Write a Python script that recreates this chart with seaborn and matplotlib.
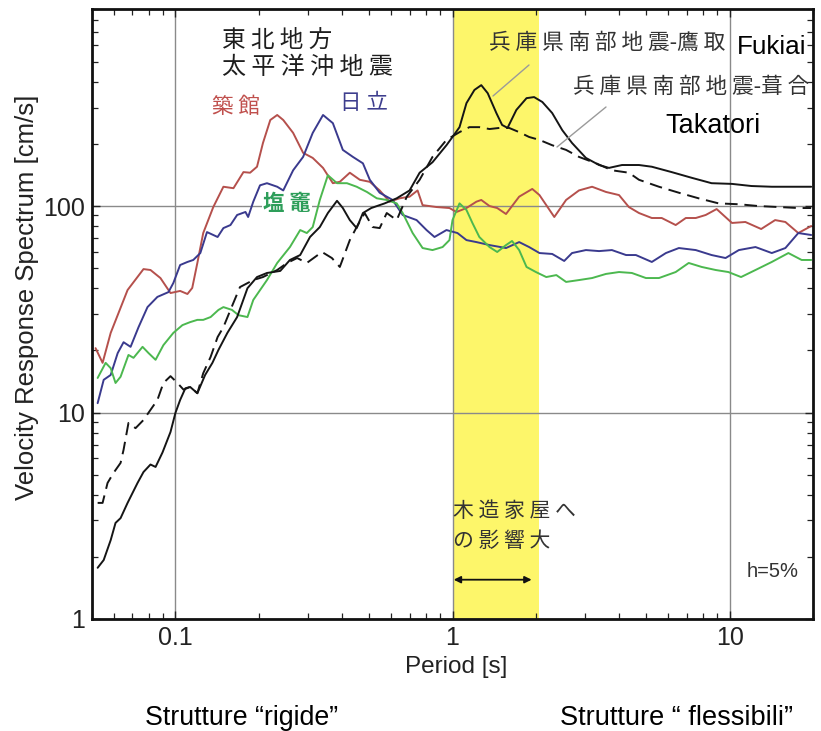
import numpy as np
import pandas as pd
import matplotlib
matplotlib.use("Agg")
import matplotlib.pyplot as plt
from matplotlib.lines import Line2D
from matplotlib.ticker import FixedLocator, FixedFormatter, LogLocator, NullFormatter
import seaborn as sns

# ---- velocity response spectra (h = 5%) : period [s] / velocity [cm/s] ----
tsukidate_period = [0.0515, 0.0546, 0.0584, 0.0672, 0.0767, 0.0813, 0.0883, 0.096, 0.104, 0.1105,
                    0.115, 0.120, 0.126, 0.137, 0.149, 0.162, 0.176, 0.186, 0.197, 0.207,
                    0.220, 0.233, 0.245, 0.266, 0.289, 0.313, 0.341, 0.370, 0.392, 0.426,
                    0.463, 0.503, 0.546, 0.593, 0.644, 0.700, 0.748, 0.780, 0.875, 0.975,
                    1.034, 1.123, 1.22, 1.27, 1.36, 1.45, 1.56, 1.74, 1.94, 2.06,
                    2.18, 2.33, 2.57, 2.86, 3.19, 3.58, 3.99, 4.33, 4.71, 5.24,
                    5.69, 6.39, 6.95, 7.55, 8.20, 8.98, 10.2, 11.4, 13.0, 14.6,
                    15.9, 17.7, 19.7]
tsukidate_vel = [20.5, 17.4, 24.3, 39.2, 49.5, 49.0, 44.8, 37.9, 38.8, 37.5,
                 40.1, 53.0, 74.0, 98.9, 124, 122, 146, 145, 155, 202,
                 261, 276, 261, 226, 181, 171, 153, 129, 131, 145,
                 134, 131, 119, 105, 109, 111, 119, 101, 98.9, 97.8,
                 93.6, 97.8, 105, 107, 100, 97.8, 91.5, 111, 121, 113,
                 101, 88.5, 107, 119, 124, 117, 113, 98.9, 92.5, 87.5,
                 87.5, 80.9, 87.5, 87.5, 90.5, 96.7, 82.8, 83.7, 77.4, 85.5,
                 83.7, 74.0, 80.0]

hitachi_period = [0.0524, 0.0551, 0.0584, 0.0619, 0.065, 0.0689, 0.0736, 0.0793, 0.0861, 0.0944,
                  0.0983, 0.104, 0.1105, 0.116, 0.123, 0.130, 0.142, 0.149, 0.158, 0.167,
                  0.179, 0.183, 0.191, 0.202, 0.214, 0.233, 0.245, 0.266, 0.289, 0.313,
                  0.341, 0.370, 0.402, 0.437, 0.475, 0.503, 0.546, 0.608, 0.661, 0.742,
                  0.806, 0.861, 0.951, 1.042, 1.123, 1.22, 1.36, 1.56, 1.74, 1.89,
                  2.06, 2.29, 2.53, 2.70, 3.03, 3.38, 3.76, 4.23, 4.59, 5.24,
                  5.89, 6.56, 7.55, 8.61, 9.67, 10.8, 12.4, 14.2, 15.9, 17.7, 19.7]
hitachi_vel = [11.1, 14.4, 15.2, 19.4, 21.9, 20.8, 25.9, 32.4, 36.3, 38.3,
               42.4, 51.8, 53.6, 54.8, 59.2, 74.8, 70.8, 78.2, 80.9, 90.5,
               93.6, 88.5, 105, 126, 129, 124, 119, 149, 173, 226,
               276, 252, 187, 173, 161, 134, 116, 107, 90.5, 85.5,
               76.5, 70.8, 76.5, 74.0, 68.4, 66.9, 64.7, 62.6, 66.9, 63.3,
               59.2, 58.6, 54.2, 59.2, 61.2, 60.5, 61.2, 57.9, 57.9, 53.6,
               59.2, 62.6, 61.2, 57.9, 56.0, 61.2, 63.3, 59.2, 62.6, 74.0, 72.4]

shiogama_period = [0.0524, 0.056, 0.0584, 0.0608, 0.0634, 0.0677, 0.0706, 0.0761, 0.080, 0.0848,
                   0.0905, 0.0983, 0.106, 0.113, 0.120, 0.126, 0.134, 0.143, 0.149, 0.160,
                   0.169, 0.182, 0.191, 0.214, 0.233, 0.259, 0.282, 0.298, 0.313, 0.332,
                   0.355, 0.383, 0.416, 0.451, 0.491, 0.533, 0.579, 0.629, 0.661, 0.718,
                   0.780, 0.847, 0.921, 0.975, 1.0, 1.06, 1.123, 1.18, 1.25, 1.36,
                   1.45, 1.56, 1.64, 1.74, 1.85, 2.00, 2.18, 2.37, 2.57, 2.86,
                   3.19, 3.58, 3.99, 4.44, 4.99, 5.56, 6.39, 7.12, 7.93, 8.91,
                   9.9, 11.0, 12.4, 14.2, 16.3, 18.2, 19.7]
shiogama_vel = [14.7, 17.4, 16.4, 13.9, 14.9, 19.0, 18.4, 20.8, 19.4, 18.0,
                21.2, 24.3, 26.5, 27.4, 28.1, 28.1, 29.0, 31.4, 32.4, 31.4,
                29.6, 29.0, 35.1, 43.8, 53.0, 63.3, 76.5, 74.0, 79.1, 107,
                141, 129, 129, 124, 117, 109, 107, 103, 92.5, 74.0,
                62.6, 61.2, 63.3, 68.4, 85.5, 103, 95.7, 82.8, 70.8, 63.3,
                59.9, 64.7, 67.7, 61.2, 50.7, 47.9, 45.3, 46.3, 42.9, 43.8,
                44.8, 46.9, 47.9, 47.4, 44.8, 44.8, 47.9, 53.0, 50.7, 49.0,
                47.9, 45.3, 49.0, 53.6, 59.2, 54.8, 54.8]

takatori_period = [0.0524, 0.0551, 0.0584, 0.0608, 0.0634, 0.0672, 0.073, 0.0767, 0.0813, 0.0848,
                   0.0898, 0.096, 0.1, 0.104, 0.1086, 0.113, 0.120, 0.128, 0.136, 0.143,
                   0.154, 0.167, 0.182, 0.197, 0.214, 0.239, 0.259, 0.282, 0.306, 0.332,
                   0.355, 0.383, 0.402, 0.426, 0.451, 0.475, 0.509, 0.569, 0.629, 0.70,
                   0.761, 0.847, 0.951, 1.0, 1.06, 1.123, 1.20, 1.27, 1.34, 1.44,
                   1.51, 1.58, 1.70, 1.85, 1.97, 2.11, 2.29, 2.49, 2.70, 3.03,
                   3.38, 3.67, 4.09, 4.71, 5.24, 6.18, 7.30, 8.61, 10.2, 12.0,
                   14.2, 16.7, 19.7]
takatori_vel = [1.77, 1.93, 2.41, 2.92, 3.08, 3.65, 4.56, 5.15, 5.6, 5.45,
                6.4, 8.05, 9.95, 11.5, 13.1, 13.3, 12.4, 15.2, 17.4, 20.1,
                24.3, 29.0, 40.0, 45.3, 47.4, 48.5, 54.8, 57.9, 70.8, 79.1,
                92.5, 106, 97.8, 85.5, 78.2, 92.5, 97.8, 103, 109, 119,
                145, 163, 197, 216, 241, 315, 365, 385, 352, 282,
                247, 239, 292, 333, 337, 319, 282, 233, 202, 171,
                158, 153, 158, 158, 155, 146, 137, 129, 128, 125,
                124, 124, 124]

fukiai_period = [0.0524, 0.0546, 0.0569, 0.0598, 0.0634, 0.065, 0.0677, 0.0718, 0.0767, 0.0813,
                 0.0861, 0.0905, 0.096, 0.1017, 0.107, 0.113, 0.120, 0.126, 0.134, 0.142,
                 0.149, 0.158, 0.171, 0.191, 0.207, 0.233, 0.253, 0.275, 0.298, 0.338,
                 0.367, 0.392, 0.426, 0.451, 0.482, 0.515, 0.546, 0.579, 0.629, 0.684,
                 0.761, 0.847, 0.951, 1.06, 1.151, 1.25, 1.36, 1.48, 1.60, 1.74,
                 1.89, 2.06, 2.29, 2.57, 2.86, 3.30, 3.76, 4.33, 4.71, 5.56,
                 6.56, 7.73, 9.13, 10.8, 12.7, 15.0, 17.7, 19.7]
fukiai_vel = [3.65, 3.65, 4.56, 5.1, 5.7, 6.6, 8.9, 8.4, 9.2, 10.3,
              11.5, 13.9, 15.0, 13.9, 12.9, 13.3, 12.4, 15.5, 18.6, 23.2,
              25.9, 31.4, 40.5, 43.8, 45.3, 49.0, 53.0, 56.0, 53.0, 59.9,
              56.0, 50.7, 68.4, 79.1, 92.5, 79.1, 78.2, 92.5, 85.5, 111,
              134, 173, 209, 228, 241, 241, 236, 239, 239, 228,
              216, 209, 197, 187, 173, 161, 149, 145, 134, 124,
              116, 109, 103, 102, 100, 98.9, 97.8, 97.8]

site_names = ["築館", "日立", "塩竈", "鷹取", "葺合"]
site_colors = ["#b5504c", "#3a3a8e", "#4cb84f", "#151515", "#151515"]

x_ticks = [0.1, 1, 10]
x_ticklabels = ["0.1", "1", "10"]
y_ticks = [1, 10, 100]
y_ticklabels = ["1", "10", "100"]

band_period = [1.0, 2.06]
arrow_period = [1.01, 1.93]
arrow_level = 1.55

# ---- long-form table for seaborn ----
frames = []
for name, per, vel in zip(site_names,
                          [tsukidate_period, hitachi_period, shiogama_period, takatori_period, fukiai_period],
                          [tsukidate_vel, hitachi_vel, shiogama_vel, takatori_vel, fukiai_vel]):
    frames.append(pd.DataFrame({"period": per, "vel": vel, "site": name}))
spectra = pd.concat(frames, ignore_index=True)

sns.set_theme(style="ticks")
plt.rcParams["font.family"] = ["Liberation Sans", "Noto Sans CJK JP", "DejaVu Sans"]
CJK = ["Noto Sans CJK JP", "DejaVu Sans"]

W, H = 821, 731
fig = plt.figure(figsize=(W / 100, H / 100), dpi=100)
ax = fig.add_axes([92 / W, 1 - 619 / H, (813 - 92) / W, (619 - 9) / H])


def fx(px):
    return px / W


def fy(py):
    return 1 - py / H


ax.set_xscale("log")
ax.set_yscale("log")
ax.axvspan(band_period[0], band_period[1], color="#fdf66a", lw=0, zorder=0)

palette = dict(zip(site_names, site_colors))
dash_map = {n: "" for n in site_names}
dash_map["葺合"] = (6.5, 3.5)
sns.lineplot(data=spectra, x="period", y="vel", hue="site", style="site",
             palette=palette, dashes=dash_map, estimator=None, sort=False,
             linewidth=1.4, legend=False, ax=ax, zorder=3)

ax.set_xlim(0.05, 20)
ax.set_ylim(1, 900)

ax.xaxis.set_major_locator(FixedLocator(x_ticks))
ax.xaxis.set_major_formatter(FixedFormatter(x_ticklabels))
ax.yaxis.set_major_locator(FixedLocator(y_ticks))
ax.yaxis.set_major_formatter(FixedFormatter(y_ticklabels))
ax.xaxis.set_minor_locator(LogLocator(base=10, subs=np.arange(2, 10)))
ax.yaxis.set_minor_locator(LogLocator(base=10, subs=np.arange(2, 10)))
ax.xaxis.set_minor_formatter(NullFormatter())
ax.yaxis.set_minor_formatter(NullFormatter())

ax.set_axisbelow(True)
ax.grid(True, which="major", color="#8a8a8a", lw=1.0)
ax.grid(False, which="minor")
ax.tick_params(which="both", direction="in", top=True, right=True, colors="#222222",
               labelsize=18, labelcolor="#222222")
ax.tick_params(which="major", length=6, width=1.0, pad=5)
ax.tick_params(which="minor", length=4, width=0.9)
for s in ax.spines.values():
    s.set_linewidth(2.0)
    s.set_color("#111111")
ax.set_xlabel("")
ax.set_ylabel("")

# axis titles
fig.text(fx(27), fy(297), "Velocity Response Spectrum [cm/s]", rotation=90,
         ha="center", va="center", fontsize=18.5, color="#222222")
fig.text(fx(456), fy(667), "Period [s]", ha="center", va="center", fontsize=17.5, color="#222222")

# event / station labels
fig.text(fx(222), fy(40), "東 北 地 方", family=CJK, fontsize=17, color="#1e1e1e",
         ha="left", va="center")
fig.text(fx(222), fy(67), "太 平 洋 沖 地 震", family=CJK, fontsize=17.3, color="#1e1e1e",
         ha="left", va="center")
fig.text(fx(212), fy(107), "築 館", family=CJK, fontsize=15.5, color="#c0504d",
         ha="left", va="center")
fig.text(fx(340), fy(103), "日 立", family=CJK, fontsize=15.5, color="#3e3e8e",
         ha="left", va="center")
fig.text(fx(263), fy(204), "塩 竈", family=CJK, fontsize=15.5, color="#2e9e5a",
         fontweight="bold", ha="left", va="center",
         bbox=dict(facecolor="white", edgecolor="none", pad=0.5), zorder=5)

fig.text(fx(489), fy(43), "兵 庫 県 南 部 地 震-鷹 取", family=CJK, fontsize=15.6,
         color="#333333", ha="left", va="center")
fig.text(fx(573), fy(87), "兵 庫 県 南 部 地 震-葺 合", family=CJK, fontsize=15.6,
         color="#333333", ha="left", va="center")
fig.text(fx(737), fy(54), "Fukiai", fontsize=18.8, color="black", ha="left", va="baseline")
fig.text(fx(665), fy(133), "Takatori", fontsize=19.5, color="black", ha="left", va="baseline")

fig.add_artist(Line2D([fx(529), fx(493)], [fy(65), fy(96)], color="#9a9a9a", lw=1.0))
fig.add_artist(Line2D([fx(606), fx(557)], [fy(107), fy(147)], color="#9a9a9a", lw=1.0))

fig.text(fx(453), fy(511), "木 造 家 屋 へ", family=CJK, fontsize=15, color="#333333",
         ha="left", va="center")
fig.text(fx(453), fy(541), "の 影 響 大", family=CJK, fontsize=15, color="#333333",
         ha="left", va="center")
ax.annotate("", xy=(arrow_period[1], arrow_level), xytext=(arrow_period[0], arrow_level),
            arrowprops=dict(arrowstyle="<|-|>", color="#111111", lw=1.3,
                            mutation_scale=10, shrinkA=0, shrinkB=0), zorder=4)

fig.text(fx(747), fy(577), "h=5%", fontsize=14.5, color="#333333", ha="left", va="baseline")

fig.text(fx(145), fy(718), "Strutture “rigide”", fontsize=19.3, color="black",
         ha="left", va="center")
fig.text(fx(560), fy(718), "Strutture “ flessibili”", fontsize=19.5, color="black",
         ha="left", va="center")

fig.savefig("out.png", dpi=100)
